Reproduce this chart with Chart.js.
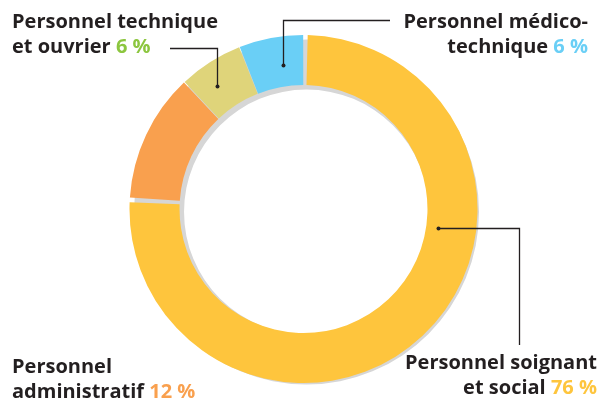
<!DOCTYPE html>
<html lang="fr">
<head>
<meta charset="utf-8">
<title>Répartition du personnel</title>
<script src="https://cdn.jsdelivr.net/npm/chart.js@4/dist/chart.umd.min.js"></script>
<style>
    html, body { margin: 0; padding: 0; background: #fff; }
    .wrap { position: relative; width: 601px; height: 401px; overflow: hidden; }
    canvas { position: absolute; left: 0; top: 0; }
    .lbl {
        position: absolute;
        font-family: "Open Sans", sans-serif;
        font-weight: 700;
        font-size: 20px;
        line-height: 25px;
        color: #231f20;
        white-space: nowrap;
    }
    .right { text-align: right; }
</style>
</head>
<body>
<div class="wrap">
    <canvas id="graficaAnillo" width="601" height="401"></canvas>
    <div class="lbl" style="left:12px; top:8px;">Personnel technique<br>et ouvrier <span style="color:#8cc63f">6 %</span></div>
    <div class="lbl right" style="right:13px; top:8px;">Personnel médico-<br>technique <span style="color:#6acff6">6 %</span></div>
    <div class="lbl" style="left:12px; top:353px;">Personnel<br>administratif <span style="color:#f9a04e">12 %</span></div>
    <div class="lbl right" style="right:4px; top:349px;">Personnel soignant<br>et social <span style="color:#fec53d">76 %</span></div>
</div>
<script>
// Catégories de personnel et parts en pourcentage
const categorias = ['Personnel soignant et social', 'Personnel administratif', 'Personnel technique et ouvrier', 'Personnel médico-technique'];
const porcentajes = [76, 12, 6, 6];
const colores = ['#fec53d', '#f9a04e', '#dfd47a', '#6acff6'];

// Traits de rappel : index de la part, position dans la part (t, r),
// sens du premier segment, coude et extrémité
const rappels = [
    { idx: 0, t: 0.358, r: 0.27, sens: 'h', coude: 519, fin: 345 },
    { idx: 2, t: 0.37, r: 0.55, sens: 'v', coude: 48, fin: 170 },
    { idx: 3, t: 0.625, r: 0.45, sens: 'v', coude: 20, fin: 390 }
];

document.addEventListener('DOMContentLoaded', function () {
    const ctx = document.getElementById('graficaAnillo').getContext('2d');

    // Ombre grise décalée sous l'anneau
    const sombra = {
        id: 'sombra',
        beforeDatasetsDraw(chart) {
            const arc = chart.getDatasetMeta(0).data[0];
            if (!arc) return;
            const c = chart.ctx;
            c.save();
            c.fillStyle = '#d6d6d6';
            c.beginPath();
            c.arc(arc.x + 3, arc.y + 3, arc.outerRadius, 0, Math.PI * 2);
            c.arc(arc.x + 3, arc.y + 3, arc.innerRadius, 0, Math.PI * 2, true);
            c.fill();
            c.restore();
        }
    };

    // Traits de rappel avec point
    const lineas = {
        id: 'lineas',
        afterDatasetsDraw(chart) {
            const meta = chart.getDatasetMeta(0);
            const c = chart.ctx;
            c.save();
            c.strokeStyle = '#231f20';
            c.fillStyle = '#231f20';
            c.lineWidth = 1.3;
            rappels.forEach(l => {
                const a = meta.data[l.idx];
                const ang = a.startAngle + l.t * (a.endAngle - a.startAngle);
                const rad = a.innerRadius + l.r * (a.outerRadius - a.innerRadius);
                const x = Math.round(a.x + Math.cos(ang) * rad) + 0.5;
                const y = Math.round(a.y + Math.sin(ang) * rad) + 0.5;
                c.beginPath();
                c.moveTo(x, y);
                if (l.sens === 'h') {
                    c.lineTo(l.coude + 0.5, y);
                    c.lineTo(l.coude + 0.5, l.fin);
                } else {
                    c.lineTo(x, l.coude + 0.5);
                    c.lineTo(l.fin, l.coude + 0.5);
                }
                c.stroke();
                c.beginPath();
                c.arc(x, y, 2, 0, Math.PI * 2);
                c.fill();
            });
            c.restore();
        }
    };

    new Chart(ctx, {
        type: 'doughnut',
        data: {
            labels: categorias,
            datasets: [{
                data: porcentajes,
                backgroundColor: colores,
                borderWidth: 0,
                spacing: 3
            }]
        },
        options: {
            responsive: false,
            animation: false,
            cutout: '71%',
            rotation: 0,
            layout: { padding: { top: 35, bottom: 18, left: 6, right: 0 } },
            plugins: {
                legend: { display: false },
                tooltip: { enabled: false }
            }
        },
        plugins: [sombra, lineas]
    });
});
</script>
</body>
</html>
